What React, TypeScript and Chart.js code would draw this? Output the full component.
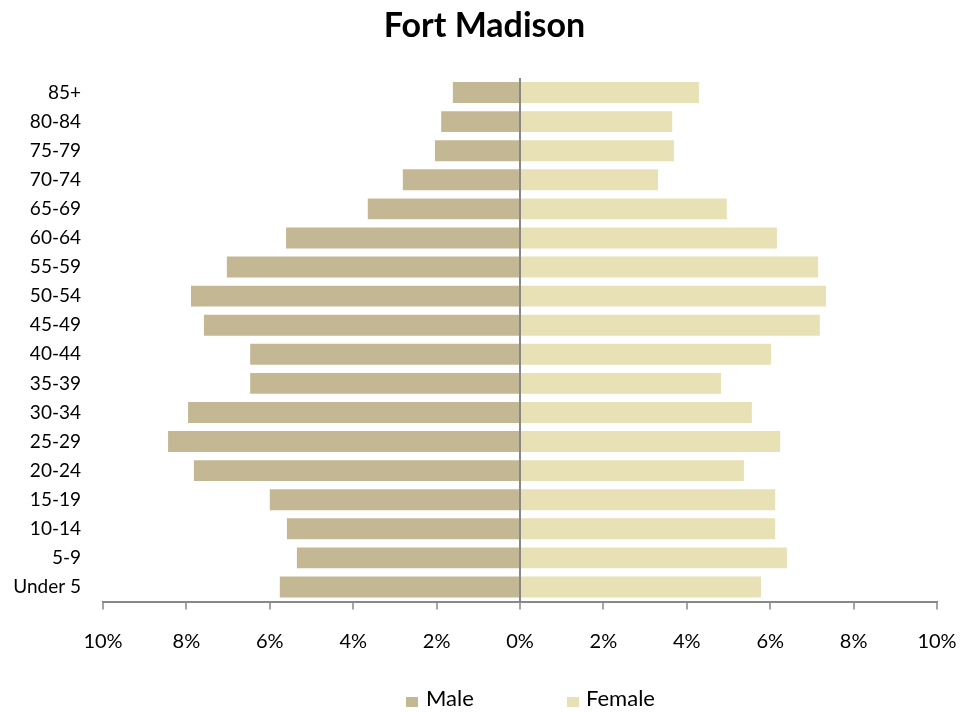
import React, { useEffect, useRef } from "react";
import { Chart, registerables } from "chart.js";

Chart.register(...registerables);

const ageGroups = [
  "Under 5", "5-9", "10-14", "15-19", "20-24", "25-29", "30-34", "35-39", "40-44",
  "45-49", "50-54", "55-59", "60-64", "65-69", "70-74", "75-79", "80-84", "85+",
];
const malePct = [5.76, 5.35, 5.59, 6.0, 7.82, 8.44, 7.96, 6.47, 6.47, 7.58, 7.89, 7.03, 5.61, 3.65, 2.81, 2.04, 1.89, 1.61];
const femalePct = [5.78, 6.4, 6.12, 6.12, 5.37, 6.24, 5.56, 4.82, 6.02, 7.19, 7.34, 7.15, 6.16, 4.96, 3.31, 3.69, 3.65, 4.29];
const xTicks = [-10, -8, -6, -4, -2, 0, 2, 4, 6, 8, 10];

const MALE_COLOR = "#C4B794";
const FEMALE_COLOR = "#E8E1B5";
const AXIS_COLOR = "#888888";
const FONT = "Lato, 'Open Sans', sans-serif";

export default function App() {
  const ref = useRef<HTMLCanvasElement | null>(null);

  useEffect(() => {
    if (!ref.current) return;
    const chart = new Chart(ref.current, {
      type: "bar",
      data: {
        labels: ageGroups,
        datasets: [
          {
            label: "Male",
            data: malePct.map((v) => -v),
            backgroundColor: MALE_COLOR,
            borderWidth: 0,
            barPercentage: 0.72,
            categoryPercentage: 1,
          },
          {
            label: "Female",
            data: femalePct,
            backgroundColor: FEMALE_COLOR,
            borderWidth: 0,
            barPercentage: 0.72,
            categoryPercentage: 1,
          },
        ],
      },
      options: {
        indexAxis: "y",
        responsive: false,
        animation: false,
        devicePixelRatio: 1,
        layout: { padding: { left: 0, right: 42, top: 78, bottom: 0 } },
        plugins: {
          legend: { display: false },
          title: { display: false },
          tooltip: { enabled: false },
        },
        scales: {
          x: {
            type: "linear",
            stacked: true,
            min: -10,
            max: 10,
            z: 1,
            afterBuildTicks: (s: any) => {
              s.ticks = xTicks.map((v) => ({ value: v }));
            },
            afterFit: (s: any) => {
              s.height = 111.5;
            },
            ticks: {
              callback: (v: any) => Math.abs(Number(v)) + "%",
              color: "#000",
              font: { family: FONT, size: 20 },
              padding: 20,
              maxRotation: 0,
            },
            grid: {
              color: (ctx: any) => (ctx.tick && ctx.tick.value === 0 ? AXIS_COLOR : "rgba(0,0,0,0)"),
              tickColor: AXIS_COLOR,
              tickLength: 8,
              lineWidth: 2,
              tickWidth: 1.5,
            },
            border: { display: true, color: AXIS_COLOR, width: 2 },
          },
          y: {
            type: "category",
            stacked: true,
            reverse: true,
            afterFit: (s: any) => {
              s.width = 103;
            },
            ticks: {
              color: "#000",
              font: { family: FONT, size: 19 },
              padding: 22,
              autoSkip: false,
            },
            grid: { display: false, drawTicks: false },
            border: { display: false },
          },
        },
      },
    });
    return () => chart.destroy();
  }, []);

  const legendText: React.CSSProperties = {
    position: "absolute",
    top: 687,
    fontFamily: FONT,
    fontSize: 22,
    lineHeight: "22px",
    color: "#000",
    whiteSpace: "nowrap",
  };
  const box: React.CSSProperties = { position: "absolute", top: 697, width: 12, height: 10 };

  return (
    <div style={{ position: "fixed", left: 0, top: 0, width: 979, height: 713, background: "#fff", overflow: "hidden" }}>
      <canvas ref={ref} width={979} height={713} style={{ position: "absolute", left: 0, top: 0, width: 979, height: 713 }} />
      <div
        style={{
          position: "absolute",
          left: 0,
          top: 7,
          width: 969,
          textAlign: "center",
          fontFamily: FONT,
          fontWeight: 700,
          fontSize: 34,
          lineHeight: "34px",
          color: "#000",
        }}
      >
        Fort Madison
      </div>
      <div style={{ ...box, left: 406, background: MALE_COLOR }} />
      <div style={{ ...legendText, left: 426 }}>Male</div>
      <div style={{ ...box, left: 567, background: FEMALE_COLOR }} />
      <div style={{ ...legendText, left: 586 }}>Female</div>
    </div>
  );
}
